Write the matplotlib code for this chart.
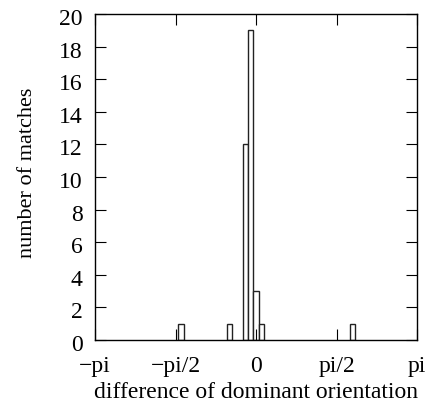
import numpy as np
import matplotlib
matplotlib.use("Agg")
import matplotlib.pyplot as plt
from matplotlib.transforms import ScaledTranslation

# histogram of orientation differences, bin width 2*pi/60
bin_w = 2 * np.pi / 60
bin_k = [-14, -5, -2, -1, 0, 1, 18]      # bin index (center = k * bin_w)
counts = [1, 1, 12, 19, 3, 1, 1]

xticks = [-np.pi, -np.pi / 2, 0, np.pi / 2, np.pi]
xlabels = ["\u2212pi", "\u2212pi/2", "0", "pi/2", "pi"]
yticks = list(range(0, 21, 2))

plt.rcParams['font.family'] = ['Liberation Serif', 'DejaVu Serif']
plt.rcParams['font.size'] = 17

fig = plt.figure(figsize=(4.26, 4.06), dpi=100)
ax = fig.add_axes([0.223, 0.160, 0.756, 0.803])

centers = np.array(bin_k) * bin_w
ax.bar(centers, counts, width=bin_w, facecolor='white', edgecolor='#222222',
       linewidth=1.0, align='center')

ax.set_xlim(-np.pi, np.pi)
ax.set_ylim(0, 20)
ax.set_xticks(xticks)
ax.set_xticklabels(xlabels)
ax.set_yticks(yticks)
ax.tick_params(direction='in', length=8, width=0.8, top=True, right=True,
               labelsize=17)
ax.tick_params(axis='y', pad=9)
ax.tick_params(axis='x', pad=11)
for s in ax.spines.values():
    s.set_linewidth(1.0)

# gnuplot puts the y tick numbers a little below the tick
shift = ScaledTranslation(0, -2 / 100, fig.dpi_scale_trans)
for lab in ax.get_yticklabels():
    lab.set_transform(lab.get_transform() + shift)

ax.set_xlabel("difference of dominant orientation", labelpad=3.5)
ax.set_ylabel("number of matches", fontsize=16)
ax.yaxis.set_label_coords(-0.1816, 0.515)

fig.savefig("out.png", dpi=100)
